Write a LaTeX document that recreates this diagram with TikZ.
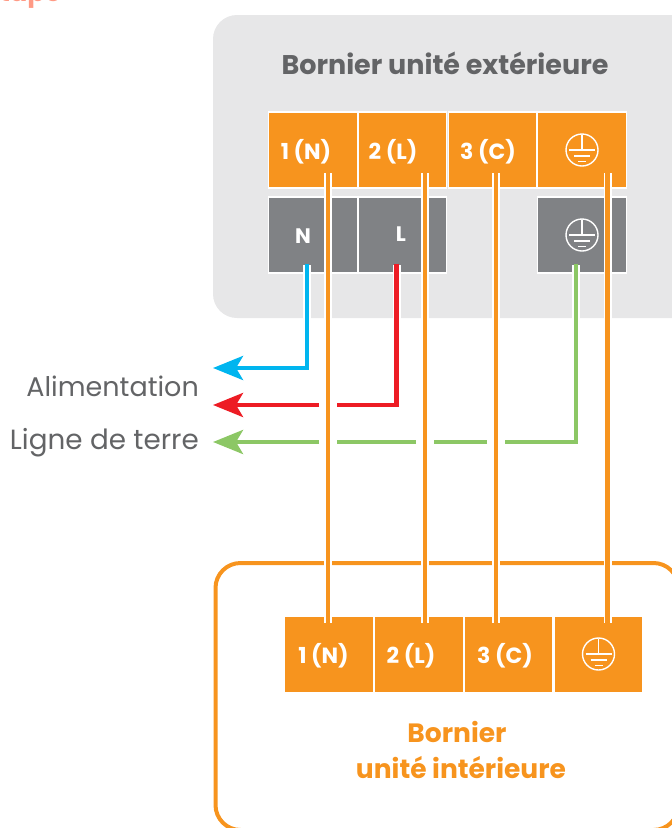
\documentclass[tikz,border=0pt]{standalone}
\usepackage{fontspec}
\usetikzlibrary{arrows.meta}
\setmainfont{Poppins}
\definecolor{org}{HTML}{F7941E}
\definecolor{gbox}{HTML}{E7E7E8}
\definecolor{gcell}{HTML}{808285}
\definecolor{txt}{HTML}{636466}
\definecolor{wblue}{HTML}{00B5EF}
\definecolor{wred}{HTML}{ED1C24}
\definecolor{wgreen}{HTML}{8CC765}
\definecolor{peach}{HTML}{FF9A85}
\tikzset{
  cellbox/.style={draw=white,line width=1.3pt,minimum width=88.5pt,minimum height=76pt,inner sep=0pt},
  orangecell/.style={cellbox,fill=org},
  greycell/.style={cellbox,fill=gcell},
  lowcell/.style={orangecell,draw=none,minimum width=87.5pt,minimum height=75pt},
  celltext/.style={text=white,font=\bfseries\fontsize{22}{26}\selectfont,inner sep=0pt,anchor=center},
  smalltext/.style={text=white,font=\bfseries\fontsize{21}{25}\selectfont,inner sep=0pt,anchor=center},
  wirebase/.style={line width=7.6pt,white},
  wirecore/.style={line width=4.5pt},
  sidetext/.style={text=txt,inner sep=0pt,anchor=base east},
  headarrow/.style={-{Stealth[length=30pt,width=24pt,inset=7pt]}},
  earth/.pic={
    \draw[white,line width=1.4pt] (0,0) circle[radius=16];
    \draw[white,line width=1.4pt] (-13,0) -- (13,0) (0,-15) -- (0,0) (-8,6) -- (8,6) (-4,11.5) -- (4,11.5);
  }
}
\begin{document}
\begin{tikzpicture}[x=1pt,y=-1pt]
\useasboundingbox (0,0) rectangle (672,828);
\clip (0,0) rectangle (672,828);
% clipped heading
\node[text=peach,font=\bfseries\fontsize{26}{30}\selectfont,inner sep=0pt,anchor=base west] (top) at (-15,1.5) {Étape};
% panels
\node[fill=gbox,rounded corners=24pt,minimum width=483pt,minimum height=303pt,inner sep=0pt] (outer) at (454.5,166.5) {};
\node[draw=org,line width=4pt,rounded corners=25pt,minimum width=463pt,minimum height=267pt,inner sep=0pt] (inner) at (447,696.5) {};
\node[text=txt,font=\bfseries\fontsize{27}{32}\selectfont,inner sep=0pt,anchor=base] (t1) at (445,74) {Bornier unité extérieure};
% outdoor terminals
\node[orangecell] (a1) at (313,150) {};
\node[orangecell] (a2) at (402.5,150) {};
\node[orangecell] (a3) at (492.5,150) {};
\node[orangecell] (a4) at (582,150) {};
\node[greycell] (b1) at (313,235) {};
\node[greycell] (b2) at (402.5,235) {};
\node[greycell] (b4) at (582,235) {};
\node[celltext] (a1t) at (306,152) {1 (N)};
\node[celltext] (a2t) at (393,152) {2 (L)};
\node[celltext] (a3t) at (488,152) {3 (C)};
\node[smalltext] (b1t) at (303,236) {N};
\node[smalltext] (b2t) at (401,234) {L};
\pic at (a4.center) {earth};
\pic at (b4.center) {earth};
% indoor terminals
\node[lowcell] (c1) at (329,654) {};
\node[lowcell] (c2) at (419,654) {};
\node[lowcell] (c3) at (508.5,654) {};
\node[lowcell] (c4) at (598.5,654) {};
\node[celltext] (c1t) at (323.5,656) {1 (N)};
\node[celltext] (c2t) at (411,656) {2 (L)};
\node[celltext] (c3t) at (505,656) {3 (C)};
\pic at (c4.center) {earth};
\node[text=org,font=\bfseries\fontsize{26.5}{30}\selectfont,inner sep=0pt,anchor=base] (t2) at (457,742) {Bornier};
\node[text=org,font=\bfseries\fontsize{26.5}{30}\selectfont,inner sep=0pt,anchor=base] (t3) at (461,778) {unité intérieure};
% pins
\coordinate (pN) at (307,265);
\coordinate (pL) at (396.7,265);
\coordinate (pE) at (576,265);
\coordinate (kN) at (307,368);
\coordinate (kL) at (396.7,405);
\coordinate (kE) at (576,442);
\coordinate (eN) at (213,368);
\coordinate (eL) at (213,405);
\coordinate (eE) at (213,442);
\coordinate (g1a) at (337,405);\coordinate (g1b) at (319,405);
\coordinate (g2a) at (505,442);\coordinate (g2b) at (487,442);
\coordinate (g3a) at (434,442);\coordinate (g3b) at (416,442);
\coordinate (g4a) at (337,442);\coordinate (g4b) at (319,442);
% feeders
\draw[wirebase] (pN) -- ([yshift=-25pt]kN);
\draw[wirebase] (pL) -- ([yshift=-25pt]kL);
\draw[wirebase] (pE) -- ([yshift=-25pt]kE);
\draw[wblue,wirecore,headarrow,line join=miter] ([yshift=1.5pt]pN) -- (kN) -- (eN);
\draw[wred,wirecore,line join=miter] ([yshift=1.5pt]pL) -- (kL) -- (g1a);
\draw[wred,wirecore,headarrow] (g1b) -- (eL);
\draw[wgreen,wirecore,line join=miter] ([yshift=1.5pt]pE) -- (kE) -- (g2a);
\draw[wgreen,wirecore] (g2b) -- (g3a);
\draw[wgreen,wirecore] (g3b) -- (g4a);
\draw[wgreen,wirecore,headarrow] (g4b) -- (eE);
% orange links
\foreach \n/\x in {1/328,2/425,3/496,4/607.7}{
  \coordinate (u\n) at (\x,173);
  \coordinate (d\n) at (\x,623);
  \draw[wirebase] (u\n) -- (d\n);
  \draw[org,wirecore] ([yshift=1.5pt]u\n) -- ([yshift=-1.5pt]d\n);
}
% side labels
\node[sidetext,font=\fontsize{27}{32}\selectfont] (s1) at (199,396) {Alimentation};
\node[sidetext,font=\fontsize{27.8}{32}\selectfont] (s2) at (199,449) {Ligne de terre};
\end{tikzpicture}
\end{document}
